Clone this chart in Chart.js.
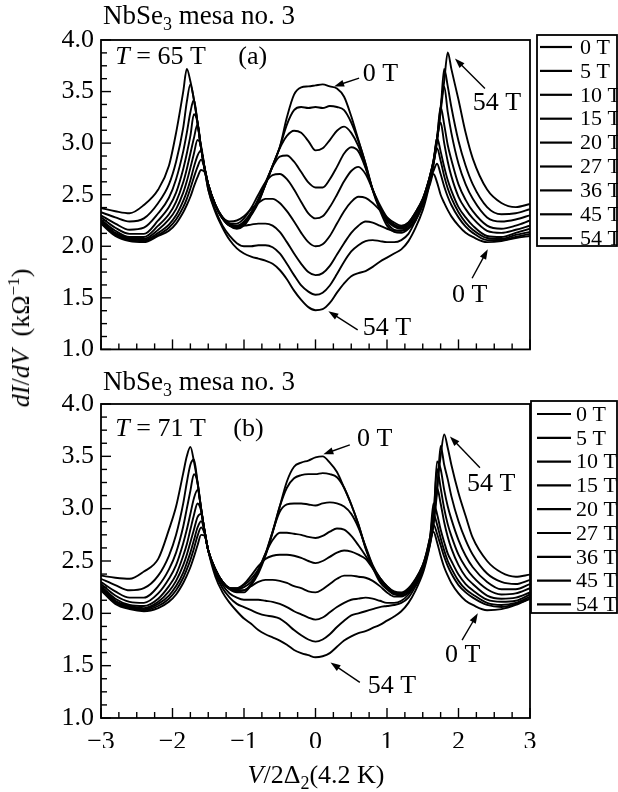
<!DOCTYPE html>
<html>
<head>
<meta charset="utf-8">
<script src="https://cdn.jsdelivr.net/npm/chart.js@4.4.1/dist/chart.umd.min.js"></script>
<style>
  body { margin: 0; width: 618px; height: 792px; background: #fff; position: relative; overflow: hidden;
         font-family: 'Liberation Serif', 'Times New Roman', serif; color: #000; }
  canvas { position: absolute; left: 0; }
  #chartA { top: 0; }
  #chartB { top: 380px; }
  .ttl { position: absolute; left: 103px; font-size: 27px; line-height: 1; white-space: nowrap; z-index: 2; }
  .ttl sub { font-size: 18px; vertical-align: -6px; line-height: 0; }
  #ytitle { position: absolute; left: 21px; top: 338px; transform: translate(-50%, -50%) rotate(-90deg);
            font-size: 26px; white-space: nowrap; }
  #ytitle sup { font-size: 17px; vertical-align: 10px; line-height: 0; }
  #xtitle { position: absolute; left: 316px; top: 775px; transform: translate(-50%, -50%);
            font-size: 26px; white-space: nowrap; }
  #xtitle sub { font-size: 18px; vertical-align: -6px; line-height: 0; }
</style>
</head>
<body>
<div class="ttl" style="top:2px">NbSe<sub>3</sub> mesa no. 3</div>
<div class="ttl" style="top:368px">NbSe<sub>3</sub> mesa no. 3</div>
<canvas id="chartA" width="618" height="372"></canvas>
<canvas id="chartB" width="618" height="412"></canvas>
<div id="ytitle"><i>dI</i>/<i>dV</i>&nbsp; (kΩ<sup>−1</sup>)</div>
<div id="xtitle"><i>V</i>/2Δ<sub>2</sub>(4.2 K)</div>
<script>
// field labels, shared bias grid (V/2Δ2)
const fields = ['0 T', '5 T', '10 T', '15 T', '20 T', '27 T', '36 T', '45 T', '54 T'];
const xs = [-3, -2.8, -2.6, -2.4, -2.2, -2.05, -1.95, -1.85, -1.8, -1.75, -1.7, -1.65, -1.6, -1.55,
  -1.5, -1.4, -1.3, -1.2, -1.1, -1.0, -0.9, -0.8, -0.7, -0.6, -0.5, -0.4, -0.3, -0.2, -0.1, 0,
  0.1, 0.2, 0.3, 0.4, 0.5, 0.6, 0.7, 0.8, 0.9, 1.0, 1.1, 1.2, 1.3, 1.4, 1.5,
  1.55, 1.6, 1.65, 1.7, 1.75, 1.8, 1.85, 1.9, 2.0, 2.1, 2.2, 2.4, 2.6, 2.8, 3];
const yTicks = [1.0, 1.5, 2.0, 2.5, 3.0, 3.5, 4.0];
const xTicks = [-3, -2, -1, 0, 1, 2, 3];

// (a) T = 65 T
const a00 = [2.22, 2.10, 2.05, 2.04, 2.10, 2.15, 2.22, 2.33, 2.40, 2.48, 2.58, 2.67, 2.74, 2.72,
  2.58, 2.40, 2.28, 2.20, 2.17, 2.20, 2.30, 2.42, 2.60, 2.78, 2.96, 3.25, 3.47, 3.54, 3.55, 3.56,
  3.57, 3.55, 3.53, 3.45, 3.26, 3.03, 2.80, 2.54, 2.35, 2.20, 2.14, 2.13, 2.17, 2.25, 2.40,
  2.50, 2.60, 2.70, 2.62, 2.50, 2.42, 2.35, 2.29, 2.20, 2.13, 2.09, 2.04, 2.05, 2.08, 2.10];
const a05 = [2.23, 2.11, 2.06, 2.05, 2.11, 2.18, 2.26, 2.38, 2.46, 2.56, 2.67, 2.77, 2.84, 2.75,
  2.60, 2.40, 2.27, 2.20, 2.18, 2.21, 2.31, 2.43, 2.60, 2.78, 2.96, 3.18, 3.32, 3.35, 3.34, 3.35,
  3.34, 3.36, 3.35, 3.32, 3.20, 3.02, 2.80, 2.55, 2.37, 2.23, 2.16, 2.15, 2.18, 2.27, 2.42,
  2.52, 2.63, 2.73, 2.80, 2.70, 2.58, 2.48, 2.40, 2.28, 2.19, 2.13, 2.06, 2.06, 2.09, 2.12];
const a10 = [2.24, 2.12, 2.07, 2.06, 2.13, 2.21, 2.30, 2.44, 2.53, 2.64, 2.77, 2.88, 2.93, 2.76,
  2.60, 2.40, 2.27, 2.20, 2.19, 2.22, 2.31, 2.44, 2.60, 2.78, 2.95, 3.07, 3.12, 3.10, 3.02, 2.93,
  2.95, 3.03, 3.12, 3.16, 3.10, 2.97, 2.77, 2.55, 2.37, 2.25, 2.19, 2.17, 2.20, 2.30, 2.44,
  2.54, 2.66, 2.80, 2.95, 2.83, 2.68, 2.56, 2.47, 2.33, 2.23, 2.16, 2.08, 2.07, 2.11, 2.14];
const a15 = [2.25, 2.13, 2.08, 2.07, 2.16, 2.26, 2.36, 2.52, 2.63, 2.76, 2.90, 3.03, 2.97, 2.76,
  2.60, 2.40, 2.27, 2.20, 2.20, 2.24, 2.33, 2.46, 2.62, 2.77, 2.87, 2.88, 2.82, 2.72, 2.62, 2.57,
  2.57, 2.65, 2.77, 2.90, 2.96, 2.92, 2.76, 2.55, 2.38, 2.26, 2.20, 2.18, 2.22, 2.32, 2.45,
  2.55, 2.68, 2.82, 3.05, 2.92, 2.77, 2.64, 2.54, 2.38, 2.28, 2.20, 2.10, 2.09, 2.13, 2.17];
const a20 = [2.26, 2.15, 2.09, 2.09, 2.20, 2.31, 2.43, 2.62, 2.75, 2.90, 3.05, 3.18, 2.95, 2.75,
  2.60, 2.40, 2.27, 2.22, 2.22, 2.27, 2.37, 2.50, 2.62, 2.69, 2.70, 2.65, 2.55, 2.43, 2.32, 2.27,
  2.29, 2.38, 2.50, 2.63, 2.73, 2.77, 2.70, 2.55, 2.40, 2.28, 2.21, 2.19, 2.23, 2.33, 2.46,
  2.56, 2.68, 2.83, 3.05, 3.20, 3.00, 2.82, 2.68, 2.48, 2.36, 2.27, 2.15, 2.13, 2.16, 2.20];
const a27 = [2.28, 2.18, 2.12, 2.12, 2.25, 2.38, 2.52, 2.75, 2.90, 3.07, 3.28, 3.20, 2.95, 2.75,
  2.60, 2.40, 2.28, 2.24, 2.25, 2.29, 2.36, 2.42, 2.46, 2.46, 2.42, 2.34, 2.24, 2.13, 2.04, 2.00,
  2.02, 2.10, 2.22, 2.34, 2.43, 2.48, 2.47, 2.42, 2.35, 2.28, 2.23, 2.20, 2.23, 2.33, 2.46,
  2.56, 2.68, 2.83, 3.05, 3.35, 3.18, 2.98, 2.84, 2.60, 2.45, 2.34, 2.20, 2.17, 2.20, 2.25];
const a36 = [2.30, 2.22, 2.16, 2.18, 2.32, 2.47, 2.65, 2.92, 3.10, 3.30, 3.42, 3.20, 2.95, 2.75,
  2.60, 2.40, 2.28, 2.22, 2.20, 2.20, 2.21, 2.22, 2.22, 2.20, 2.14, 2.04, 1.93, 1.83, 1.75, 1.72,
  1.74, 1.81, 1.92, 2.03, 2.13, 2.20, 2.24, 2.23, 2.20, 2.17, 2.15, 2.15, 2.20, 2.30, 2.45,
  2.55, 2.67, 2.82, 3.05, 3.35, 3.55, 3.30, 3.10, 2.80, 2.60, 2.46, 2.28, 2.24, 2.26, 2.30];
const a45 = [2.33, 2.28, 2.24, 2.27, 2.42, 2.60, 2.82, 3.15, 3.40, 3.57, 3.42, 3.20, 2.95, 2.75,
  2.55, 2.35, 2.20, 2.10, 2.03, 2.00, 2.00, 2.01, 2.01, 1.99, 1.93, 1.83, 1.72, 1.62, 1.56, 1.53,
  1.55, 1.62, 1.73, 1.85, 1.95, 2.01, 2.05, 2.06, 2.05, 2.04, 2.04, 2.06, 2.12, 2.25, 2.40,
  2.50, 2.64, 2.80, 3.03, 3.32, 3.72, 3.55, 3.35, 3.02, 2.78, 2.60, 2.38, 2.31, 2.32, 2.36];
const a54 = [2.37, 2.34, 2.32, 2.40, 2.55, 2.78, 3.10, 3.50, 3.72, 3.60, 3.42, 3.20, 2.95, 2.75,
  2.55, 2.33, 2.18, 2.06, 1.98, 1.93, 1.90, 1.88, 1.86, 1.83, 1.77, 1.68, 1.57, 1.48, 1.41, 1.38,
  1.39, 1.45, 1.55, 1.64, 1.71, 1.74, 1.76, 1.80, 1.85, 1.89, 1.93, 1.97, 2.05, 2.18, 2.35,
  2.47, 2.62, 2.80, 3.02, 3.30, 3.60, 3.88, 3.72, 3.42, 3.10, 2.85, 2.55, 2.42, 2.38, 2.41];

// (b) T = 71 T
const b00 = [2.22, 2.09, 2.04, 2.02, 2.05, 2.11, 2.18, 2.29, 2.36, 2.44, 2.54, 2.65, 2.75, 2.74,
  2.60, 2.42, 2.30, 2.23, 2.20, 2.20, 2.27, 2.38, 2.55, 2.77, 3.02, 3.26, 3.40, 3.44, 3.46, 3.49,
  3.50, 3.44, 3.35, 3.20, 3.04, 2.85, 2.62, 2.44, 2.30, 2.23, 2.18, 2.17, 2.20, 2.29, 2.44,
  2.55, 2.70, 2.78, 2.68, 2.55, 2.44, 2.36, 2.29, 2.19, 2.12, 2.08, 2.03, 2.04, 2.08, 2.14];
const b05 = [2.23, 2.10, 2.05, 2.03, 2.07, 2.14, 2.22, 2.34, 2.42, 2.51, 2.62, 2.74, 2.82, 2.76,
  2.60, 2.42, 2.30, 2.24, 2.22, 2.22, 2.28, 2.40, 2.56, 2.78, 3.02, 3.20, 3.29, 3.32, 3.33, 3.33,
  3.34, 3.33, 3.30, 3.20, 3.04, 2.85, 2.63, 2.45, 2.32, 2.25, 2.20, 2.19, 2.23, 2.32, 2.46,
  2.57, 2.72, 2.85, 2.76, 2.65, 2.54, 2.45, 2.38, 2.27, 2.20, 2.15, 2.08, 2.06, 2.09, 2.14];
const b10 = [2.24, 2.11, 2.06, 2.04, 2.09, 2.17, 2.26, 2.39, 2.48, 2.58, 2.70, 2.82, 2.88, 2.78,
  2.60, 2.42, 2.30, 2.24, 2.23, 2.25, 2.30, 2.41, 2.57, 2.78, 2.97, 3.04, 3.05, 3.05, 3.04, 3.03,
  3.05, 3.06, 3.05, 3.02, 2.95, 2.82, 2.64, 2.46, 2.34, 2.26, 2.21, 2.20, 2.24, 2.33, 2.46,
  2.57, 2.72, 2.95, 2.85, 2.72, 2.60, 2.50, 2.43, 2.31, 2.23, 2.18, 2.10, 2.08, 2.10, 2.16];
const b15 = [2.25, 2.12, 2.07, 2.05, 2.11, 2.21, 2.31, 2.46, 2.56, 2.68, 2.80, 2.92, 2.95, 2.78,
  2.60, 2.42, 2.30, 2.24, 2.24, 2.27, 2.33, 2.42, 2.57, 2.70, 2.77, 2.77, 2.76, 2.75, 2.73, 2.72,
  2.74, 2.78, 2.81, 2.80, 2.74, 2.65, 2.55, 2.44, 2.34, 2.26, 2.20, 2.19, 2.23, 2.32, 2.45,
  2.56, 2.70, 3.05, 2.95, 2.80, 2.68, 2.57, 2.50, 2.37, 2.28, 2.22, 2.13, 2.11, 2.12, 2.18];
const b20 = [2.26, 2.14, 2.08, 2.07, 2.14, 2.26, 2.37, 2.55, 2.66, 2.80, 2.94, 3.05, 2.98, 2.78,
  2.60, 2.42, 2.30, 2.24, 2.24, 2.28, 2.36, 2.45, 2.52, 2.55, 2.56, 2.56, 2.55, 2.53, 2.50, 2.48,
  2.50, 2.54, 2.58, 2.60, 2.59, 2.56, 2.52, 2.43, 2.33, 2.25, 2.19, 2.18, 2.22, 2.31, 2.44,
  2.55, 2.69, 2.92, 3.20, 3.05, 2.87, 2.73, 2.62, 2.46, 2.35, 2.28, 2.17, 2.14, 2.15, 2.20];
const b27 = [2.28, 2.17, 2.11, 2.10, 2.19, 2.33, 2.46, 2.67, 2.80, 2.95, 3.10, 3.18, 3.00, 2.78,
  2.60, 2.41, 2.29, 2.23, 2.21, 2.22, 2.26, 2.30, 2.32, 2.32, 2.31, 2.29, 2.26, 2.24, 2.21, 2.20,
  2.23, 2.28, 2.33, 2.36, 2.36, 2.35, 2.34, 2.31, 2.26, 2.20, 2.16, 2.16, 2.20, 2.30, 2.43,
  2.54, 2.68, 2.90, 3.38, 3.20, 3.00, 2.85, 2.74, 2.56, 2.44, 2.35, 2.23, 2.18, 2.19, 2.24];
const b36 = [2.30, 2.21, 2.15, 2.15, 2.26, 2.42, 2.58, 2.83, 3.00, 3.17, 3.33, 3.25, 3.00, 2.78,
  2.60, 2.40, 2.27, 2.19, 2.15, 2.13, 2.13, 2.13, 2.12, 2.11, 2.09, 2.06, 2.02, 1.99, 1.96, 1.94,
  1.96, 2.01, 2.06, 2.10, 2.13, 2.14, 2.15, 2.14, 2.12, 2.10, 2.10, 2.12, 2.18, 2.28, 2.42,
  2.53, 2.67, 2.88, 3.45, 3.38, 3.18, 3.02, 2.90, 2.70, 2.55, 2.44, 2.30, 2.23, 2.23, 2.28];
const b45 = [2.33, 2.27, 2.22, 2.24, 2.36, 2.55, 2.75, 3.05, 3.25, 3.42, 3.47, 3.25, 3.00, 2.78,
  2.60, 2.38, 2.24, 2.15, 2.09, 2.06, 2.03, 2.00, 1.98, 1.97, 1.95, 1.90, 1.84, 1.79, 1.75, 1.73,
  1.75, 1.80, 1.87, 1.93, 1.98, 2.00, 2.02, 2.04, 2.06, 2.07, 2.08, 2.10, 2.15, 2.26, 2.40,
  2.52, 2.66, 2.86, 3.15, 3.60, 3.42, 3.28, 3.12, 2.88, 2.70, 2.56, 2.38, 2.30, 2.28, 2.32];
const b54 = [2.36, 2.34, 2.33, 2.40, 2.52, 2.80, 3.02, 3.34, 3.50, 3.59, 3.45, 3.25, 3.00, 2.78,
  2.60, 2.35, 2.20, 2.10, 2.02, 1.95, 1.90, 1.84, 1.80, 1.77, 1.74, 1.70, 1.65, 1.62, 1.60, 1.58,
  1.59, 1.62, 1.68, 1.74, 1.78, 1.81, 1.83, 1.86, 1.89, 1.93, 1.97, 2.02, 2.10, 2.22, 2.38,
  2.50, 2.65, 2.85, 3.20, 3.50, 3.71, 3.58, 3.42, 3.15, 2.93, 2.72, 2.50, 2.39, 2.35, 2.37];

const serif = '"Liberation Serif", "Times New Roman", serif';

function series(vals) {
  return xs.map((x, i) => ({ x: x, y: vals[i] }));
}

// box with inward ticks on left and bottom
const frameTicks = {
  id: 'frameTicks',
  afterDatasetsDraw(chart) {
    const { ctx, chartArea: a, scales: { x, y } } = chart;
    ctx.save();
    ctx.strokeStyle = '#000';
    ctx.lineWidth = 1.4;
    for (let k = 0; k <= 24; k++) {
      const v = 1 + k * 0.125;
      const py = y.getPixelForValue(v);
      ctx.beginPath();
      ctx.moveTo(a.left, py);
      ctx.lineTo(a.left + (k % 4 === 0 ? 10 : 6), py);
      ctx.stroke();
    }
    for (let k = 0; k <= 24; k++) {
      const v = -3 + k * 0.25;
      const px = x.getPixelForValue(v);
      ctx.beginPath();
      ctx.moveTo(px, a.bottom);
      ctx.lineTo(px, a.bottom - (k % 4 === 0 ? 10 : 6));
      ctx.stroke();
    }
    ctx.lineWidth = 1.8;
    ctx.strokeRect(a.left, a.top, a.right - a.left, a.bottom - a.top);
    ctx.restore();
  }
};

// text labels and arrows placed in data coordinates
const notes = {
  id: 'notes',
  afterDraw(chart, args, opts) {
    const { ctx, scales: { x, y } } = chart;
    ctx.save();
    ctx.fillStyle = '#000';
    ctx.strokeStyle = '#000';
    ctx.textBaseline = 'middle';
    (opts.items || []).forEach(it => {
      if (it.parts) {
        let cx = x.getPixelForValue(it.x);
        const cy = y.getPixelForValue(it.y);
        it.parts.forEach(([t, ital]) => {
          ctx.font = (ital ? 'italic ' : '') + '26px ' + serif;
          ctx.fillText(t, cx, cy);
          cx += ctx.measureText(t).width;
        });
      } else {
        const x1 = x.getPixelForValue(it.from[0]), y1 = y.getPixelForValue(it.from[1]);
        const x2 = x.getPixelForValue(it.to[0]), y2 = y.getPixelForValue(it.to[1]);
        const ang = Math.atan2(y2 - y1, x2 - x1);
        ctx.lineWidth = 1.4;
        ctx.beginPath();
        ctx.moveTo(x1, y1);
        ctx.lineTo(x2 - 6 * Math.cos(ang), y2 - 6 * Math.sin(ang));
        ctx.stroke();
        ctx.beginPath();
        ctx.moveTo(x2, y2);
        ctx.lineTo(x2 - 10 * Math.cos(ang) + 3.5 * Math.sin(ang), y2 - 10 * Math.sin(ang) - 3.5 * Math.cos(ang));
        ctx.lineTo(x2 - 10 * Math.cos(ang) - 3.5 * Math.sin(ang), y2 - 10 * Math.sin(ang) + 3.5 * Math.cos(ang));
        ctx.closePath();
        ctx.fill();
      }
    });
    ctx.restore();
  }
};

// boxed legend to the right of the plot
const boxLegend = {
  id: 'boxLegend',
  afterDraw(chart, args, o) {
    const { ctx, chartArea: a } = chart;
    const left = a.right + o.gap;
    ctx.save();
    ctx.strokeStyle = '#000';
    ctx.fillStyle = '#000';
    ctx.lineWidth = 1.8;
    ctx.strokeRect(left, o.top, o.width, o.height);
    ctx.font = '22px ' + serif;
    ctx.textBaseline = 'middle';
    chart.data.datasets.forEach((ds, i) => {
      const yy = o.first + i * o.step;
      ctx.lineWidth = 2.2;
      ctx.beginPath();
      ctx.moveTo(left + o.line[0], yy);
      ctx.lineTo(left + o.line[1], yy);
      ctx.stroke();
      ctx.fillText(ds.label, left + o.textAt, yy + 1);
    });
    ctx.restore();
  }
};

function makePanel(id, arrays, showX, pad, xH, legendOpts, items) {
  return new Chart(document.getElementById(id), {
    type: 'line',
    data: {
      datasets: fields.map((f, i) => ({
        label: f,
        data: series(arrays[i]),
        borderColor: '#000',
        borderWidth: 1.9,
        pointRadius: 0,
        cubicInterpolationMode: 'monotone',
        fill: false
      }))
    },
    options: {
      responsive: false,
      animation: false,
      events: [],
      layout: { padding: pad },
      scales: {
        x: {
          type: 'linear', min: -3, max: 3,
          grid: { display: false, drawTicks: false },
          border: { display: false },
          afterBuildTicks: s => { s.ticks = xTicks.map(v => ({ value: v })); },
          afterFit: s => { s.height = xH; },
          ticks: {
            display: showX, padding: 9, color: '#000', maxRotation: 0,
            font: { family: serif, size: 26 },
            callback: v => (v < 0 ? '\u2212' + Math.abs(v) : String(v))
          }
        },
        y: {
          min: 1, max: 4,
          grid: { display: false, drawTicks: false },
          border: { display: false },
          afterBuildTicks: s => { s.ticks = yTicks.map(v => ({ value: v })); },
          afterFit: s => { s.width = 45; },
          ticks: {
            padding: 7, color: '#000',
            font: { family: serif, size: 26 },
            callback: v => Number(v).toFixed(1)
          }
        }
      },
      plugins: {
        legend: { display: false },
        tooltip: { enabled: false },
        boxLegend: legendOpts,
        notes: { items: items }
      }
    },
    plugins: [frameTicks, notes, boxLegend]
  });
}

makePanel('chartA', [a00, a05, a10, a15, a20, a27, a36, a45, a54], false,
  { left: 56, right: 88, top: 40, bottom: 20 }, 0,
  { gap: 7, top: 35, width: 80, height: 211, first: 47, step: 23.9, line: [3, 35], textAt: 43 },
  [
    { x: -2.8, y: 3.83, parts: [['T', true], [' = 65 T', false]] },
    { x: -1.08, y: 3.83, parts: [['(a)', false]] },
    { x: 0.66, y: 3.67, parts: [['0 T', false]] },
    { from: [0.61, 3.63], to: [0.26, 3.55] },
    { x: 2.2, y: 3.39, parts: [['54 T', false]] },
    { from: [2.37, 3.53], to: [1.95, 3.82] },
    { x: 1.91, y: 1.53, parts: [['0 T', false]] },
    { from: [2.19, 1.69], to: [2.41, 1.97] },
    { x: 0.66, y: 1.21, parts: [['54 T', false]] },
    { from: [0.59, 1.19], to: [0.18, 1.37] }
  ]);

makePanel('chartB', [b00, b05, b10, b15, b20, b27, b36, b45, b54], true,
  { left: 56, right: 88, top: 24, bottom: 44 }, 30,
  { gap: 1, top: 21, width: 86, height: 212, first: 34, step: 23.8, line: [6, 40], textAt: 45 },
  [
    { x: -2.8, y: 3.76, parts: [['T', true], [' = 71 T', false]] },
    { x: -1.15, y: 3.76, parts: [['(b)', false]] },
    { x: 0.58, y: 3.66, parts: [['0 T', false]] },
    { from: [0.48, 3.61], to: [0.11, 3.52] },
    { x: 2.12, y: 3.23, parts: [['54 T', false]] },
    { from: [2.30, 3.39], to: [1.88, 3.69] },
    { x: 1.81, y: 1.60, parts: [['0 T', false]] },
    { from: [2.05, 1.745], to: [2.27, 2.0] },
    { x: 0.73, y: 1.30, parts: [['54 T', false]] },
    { from: [0.62, 1.34], to: [0.21, 1.53] }
  ]);
</script>
</body>
</html>
